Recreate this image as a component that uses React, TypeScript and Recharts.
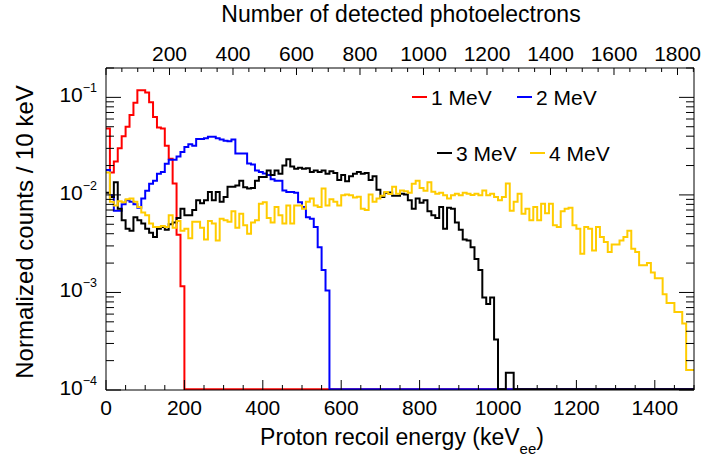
import { LineChart, Line, XAxis, YAxis } from 'recharts'

const FONT = '"Liberation Sans", Arial, Helvetica, sans-serif'

const E_MAX = 1500
const BIN = 10
const N_BINS = 150
const Y_MIN = 1e-4
const Y_MAX = 0.2
const PE_MAX = 1852 // photoelectrons at the right edge (1500 keVee)

// normalized counts per 10 keV bin (bins past the end are empty)
const MEV1 = [
  0.048, 0.017, 0.022, 0.03, 0.04, 0.05, 0.066, 0.088, 0.118, 0.118,
  0.112, 0.089, 0.063, 0.049, 0.048, 0.032, 0.0235, 0.0131, 0.0039, 0.00116,
]

const MEV2 = [
  0.018, 0.0099, 0.0069, 0.0069, 0.008, 0.0088, 0.0085, 0.008, 0.0074, 0.0092,
  0.011, 0.013, 0.014, 0.0165, 0.0172, 0.0209, 0.0229, 0.0229, 0.0248, 0.0275,
  0.031, 0.033, 0.032, 0.0375, 0.0375, 0.038, 0.0395, 0.0395, 0.038, 0.037,
  0.036, 0.0355, 0.037, 0.0265, 0.0265, 0.0265, 0.021, 0.0205, 0.0178, 0.0172,
  0.0166, 0.016, 0.0145, 0.014, 0.014, 0.0111, 0.0107, 0.0107, 0.0105, 0.0084,
  0.0075, 0.0059, 0.0057, 0.0047, 0.0029, 0.0017, 0.00105,
]

const MEV3 = [
  0.0105, 0.0095, 0.0135, 0.0072, 0.0055, 0.0045, 0.0043, 0.0059, 0.0055, 0.0051,
  0.0045, 0.0041, 0.0037, 0.0045, 0.0047, 0.0044, 0.005, 0.0052, 0.0058, 0.0072,
  0.0062, 0.0062, 0.007, 0.0088, 0.0082, 0.0088, 0.0107, 0.0088, 0.0107, 0.0085,
  0.0095, 0.0121, 0.0121, 0.0125, 0.014, 0.012, 0.0116, 0.0118, 0.014, 0.0153,
  0.0153, 0.0178, 0.016, 0.0178, 0.0165, 0.02, 0.0232, 0.0195, 0.0185, 0.019,
  0.0185, 0.0188, 0.0172, 0.0178, 0.0172, 0.0178, 0.0165, 0.0175, 0.0168, 0.0142,
  0.016, 0.0138, 0.0155, 0.0165, 0.0172, 0.0165, 0.0168, 0.0142, 0.0155, 0.0113,
  0.0095, 0.0105, 0.0106, 0.0098, 0.0098, 0.0103, 0.0101, 0.0088, 0.0072, 0.0092,
  0.0083, 0.0088, 0.0068, 0.0062, 0.0058, 0.0075, 0.0045, 0.0074, 0.0072, 0.0052,
  0.0044, 0.0035, 0.0034, 0.0029, 0.0022, 0.0017, 0.00089, 0.00076, 0.00089, 0.00033,
  0, 0, 0.00015, 0.00015,
]

const MEV4 = [
  0.017, 0.0085, 0.0078, 0.0086, 0.0084, 0.009, 0.0092, 0.0085, 0.0075, 0.0066,
  0.0062, 0.0051, 0.0047, 0.0047, 0.0048, 0.0047, 0.0062, 0.0046, 0.0054, 0.0043,
  0.0045, 0.0036, 0.0053, 0.0053, 0.0046, 0.0035, 0.0054, 0.0051, 0.0034, 0.0057,
  0.0055, 0.0053, 0.0068, 0.0046, 0.0064, 0.0049, 0.004, 0.0052, 0.0055, 0.0081,
  0.0084, 0.0058, 0.0052, 0.0075, 0.0062, 0.0051, 0.0078, 0.0051, 0.0078, 0.0078,
  0.0072, 0.0085, 0.0092, 0.0078, 0.0075, 0.0116, 0.0078, 0.009, 0.0085, 0.0078,
  0.0099, 0.0101, 0.0099, 0.0094, 0.0096, 0.0072, 0.007, 0.0101, 0.0085, 0.0092,
  0.0098, 0.0107, 0.0102, 0.0121, 0.0103, 0.0111, 0.0109, 0.0105, 0.013, 0.014,
  0.0118, 0.011, 0.0135, 0.0108, 0.0103, 0.0105, 0.0099, 0.0092, 0.0099, 0.0103,
  0.0099, 0.0105, 0.0103, 0.01, 0.0103, 0.0099, 0.0111, 0.0099, 0.0103, 0.0095,
  0.0088, 0.0095, 0.0131, 0.0069, 0.0085, 0.0103, 0.0064, 0.0072, 0.0055, 0.0075,
  0.0055, 0.0081, 0.0065, 0.0081, 0.0049, 0.0047, 0.0068, 0.0072, 0.0074, 0.0049,
  0.0045, 0.0025, 0.0047, 0.0045, 0.0027, 0.0047, 0.0037, 0.0033, 0.0026, 0.0031,
  0.0031, 0.0034, 0.0037, 0.0043, 0.0028, 0.0026, 0.0019, 0.0019, 0.002, 0.0016,
  0.0014, 0.0014, 0.00096, 0.00078, 0.00078, 0.00063, 0.00063, 0.00048, 0.00016, 0.00016,
]

const SERIES = [
  { name: '1 MeV', color: '#ff0000', counts: MEV1 },
  { name: '2 MeV', color: '#0000ff', counts: MEV2 },
  { name: '3 MeV', color: '#000000', counts: MEV3 },
  { name: '4 MeV', color: '#ffcc00', counts: MEV4 },
]

const E_LABELS = [0, 200, 400, 600, 800, 1000, 1200, 1400]
const PE_LABELS = [200, 400, 600, 800, 1000, 1200, 1400, 1600, 1800]
const E_TICKS = Array.from({ length: E_MAX / 50 + 1 }, (_, i) => i * 50)
const PE_TICKS = Array.from({ length: Math.floor(PE_MAX / 50) + 1 }, (_, i) => i * 50)
const Y_TICKS = [-4, -3, -2, -1]
  .flatMap((d) => [1, 2, 3, 4, 5, 6, 7, 8, 9].map((m) => m * Math.pow(10, d)))
  .filter((v) => v <= Y_MAX * 1.0001)

// the top scale only needs its two ends to exist
const PE_RANGE = [
  { pe: 0, v: Y_MIN },
  { pe: PE_MAX, v: Y_MIN },
]

// legend layout (ROOT-style, two columns)
const LEGEND_POS = [
  { x: 412, y: 97 },
  { x: 517, y: 97 },
  { x: 437, y: 153 },
  { x: 530, y: 153 },
]

// empty bins are drawn on the bottom edge of the frame, like ROOT does
const FLOOR = Y_MIN * 1.02

function toHist(counts: number[]) {
  const rows: { e: number; v: number }[] = []
  for (let i = 0; i < N_BINS; i++) {
    const c = counts[i] ?? 0
    rows.push({ e: i * BIN, v: Math.max(c, FLOOR) })
  }
  rows.push({ e: E_MAX, v: rows[rows.length - 1].v })
  return rows
}

const isDecade = (v: number) => {
  const lg = Math.log10(v)
  return Math.abs(lg - Math.round(lg)) < 1e-6
}

function LeftTick({ x, y, payload }: any) {
  const v = payload.value
  const major = isDecade(v)
  return (
    <g>
      <line x1={x} x2={x + (major ? 15 : 8)} y1={y} y2={y} stroke="#000" />
      {major && (
        <text x={x - 9} y={y + 5} textAnchor="end" fontSize={21} fontFamily={FONT} fill="#000">
          10
          <tspan dy={-10} fontSize={12.5}>
            {'\u2212' + -Math.round(Math.log10(v))}
          </tspan>
        </text>
      )}
    </g>
  )
}

function RightTick({ x, y, payload }: any) {
  const major = isDecade(payload.value)
  return <line x1={x} x2={x - (major ? 15 : 8)} y1={y} y2={y} stroke="#000" />
}

function BottomTick({ x, y, payload }: any) {
  const v = payload.value
  const major = v % 200 === 0
  return (
    <g>
      <line x1={x} x2={x} y1={y} y2={y - (major ? 10 : 5)} stroke="#000" />
      {E_LABELS.includes(v) && (
        <text x={x} y={y + 25} textAnchor="middle" fontSize={21} fontFamily={FONT} fill="#000">
          {v}
        </text>
      )}
    </g>
  )
}

function TopTick({ x, y, payload }: any) {
  const v = payload.value
  const major = v % 200 === 0
  return (
    <g>
      <line x1={x} x2={x} y1={y} y2={y + (major ? 7 : 4)} stroke="#000" />
      {PE_LABELS.includes(v) && (
        <text x={x} y={y - 7.5} textAnchor="middle" fontSize={21} fontFamily={FONT} fill="#000">
          {v}
        </text>
      )}
    </g>
  )
}

function Titles() {
  return (
    <g fontFamily={FONT} fill="#000">
      <text x={401} y={22} textAnchor="middle" fontSize={23}>
        Number of detected photoelectrons
      </text>
      <text x={402} y={445} textAnchor="middle" fontSize={23}>
        Proton recoil energy (keV
        <tspan dy={9} fontSize={15}>ee</tspan>
        <tspan dy={-9}>)</tspan>
      </text>
      <text x={33} y={232} textAnchor="middle" fontSize={24} transform="rotate(-90, 33, 232)">
        Normalized counts / 10 keV
      </text>
    </g>
  )
}

function HistLegend() {
  return (
    <g fontFamily={FONT} fontSize={21}>
      {SERIES.map((s, i) => {
        const p = LEGEND_POS[i]
        return (
          <g key={s.name}>
            <line x1={p.x} x2={p.x + 15} y1={p.y} y2={p.y} stroke={s.color} strokeWidth={2} />
            <text x={p.x + 19} y={p.y + 8} fill="#000">
              {s.name}
            </text>
          </g>
        )
      })}
    </g>
  )
}

export default function App() {
  const hists = SERIES.map((s) => ({ ...s, data: toHist(s.counts) }))
  const axisLine = { stroke: '#000', strokeWidth: 1 }

  return (
    <div style={{ position: 'absolute', left: 0, top: 0, width: 702, height: 459, background: '#fff' }}>
      <LineChart width={702} height={459} margin={{ top: 0, right: 0, bottom: 0, left: 0 }}>
        <XAxis
          dataKey="e"
          type="number"
          domain={[0, E_MAX]}
          ticks={E_TICKS}
          interval={0}
          allowDataOverflow
          height={69}
          axisLine={axisLine}
          tickLine={false}
          tickSize={0}
          tickMargin={0}
          tick={<BottomTick />}
        />
        <XAxis
          xAxisId="pe"
          dataKey="pe"
          orientation="top"
          type="number"
          domain={[0, PE_MAX]}
          ticks={PE_TICKS}
          interval={0}
          allowDataOverflow
          height={68}
          axisLine={axisLine}
          tickLine={false}
          tickSize={0}
          tickMargin={0}
          tick={<TopTick />}
        />
        <YAxis
          scale="log"
          type="number"
          domain={[Y_MIN, Y_MAX]}
          ticks={Y_TICKS}
          interval={0}
          allowDataOverflow
          width={106}
          axisLine={axisLine}
          tickLine={false}
          tickSize={0}
          tickMargin={0}
          tick={<LeftTick />}
        />
        <YAxis
          yAxisId="r"
          orientation="right"
          scale="log"
          type="number"
          domain={[Y_MIN, Y_MAX]}
          ticks={Y_TICKS}
          interval={0}
          allowDataOverflow
          width={8}
          axisLine={axisLine}
          tickLine={false}
          tickSize={0}
          tickMargin={0}
          tick={<RightTick />}
        />
        <Line
          xAxisId="pe"
          data={PE_RANGE}
          dataKey="v"
          stroke="none"
          dot={false}
          activeDot={false}
          legendType="none"
          isAnimationActive={false}
        />
        {hists.map((h) => (
          <Line
            key={h.name}
            data={h.data}
            dataKey="v"
            name={h.name}
            type="stepAfter"
            stroke={h.color}
            strokeWidth={2}
            dot={false}
            activeDot={false}
            isAnimationActive={false}
          />
        ))}
        <HistLegend />
        <Titles />
      </LineChart>
    </div>
  )
}
